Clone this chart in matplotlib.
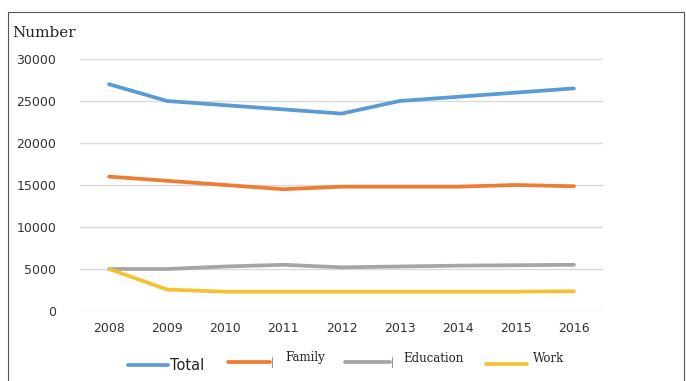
import numpy as np
import matplotlib.pyplot as plt
from matplotlib.lines import Line2D
from matplotlib.patches import Rectangle

years = ['2008', '2009', '2010', '2011', '2012', '2013', '2014', '2015', '2016']
total = [27000, 25000, 24500, 24000, 23500, 25000, 25500, 26000, 26500]
family = [16000, 15500, 15000, 14500, 14800, 14800, 14800, 15000, 14850]
education = [5000, 5000, 5300, 5500, 5200, 5300, 5400, 5450, 5500]
work = [5000, 2550, 2300, 2300, 2300, 2300, 2300, 2300, 2350]

names = ['Total', 'Family', 'Education', 'Work']
colors = ['#5B9BD5', '#ED7D31', '#A5A5A5', '#F2C232']

W, H = 686, 381
fig = plt.figure(figsize=(W / 100, H / 100), dpi=100)
ax = fig.add_axes([80 / W, 1 - 311 / H, 523 / W, 252 / H])

x = np.arange(len(years))
for vals, c in zip([total, family, education, work], colors):
    ax.plot(x, vals, color=c, lw=2.7, solid_capstyle='round', solid_joinstyle='round')

ax.set_xlim(-0.5, len(years) - 0.5)
ax.set_ylim(0, 30000)
ax.set_yticks(range(0, 30001, 5000))
ax.set_xticks(x)
ax.set_xticklabels(years)
ax.grid(axis='y', color='#D9D9D9', lw=1)
ax.set_axisbelow(True)
for s in ax.spines.values():
    s.set_visible(False)
ax.tick_params(length=0, labelsize=9, labelcolor='#333333')
ax.tick_params(axis='y', pad=17)
ax.tick_params(axis='x', pad=8)

fig.text(12 / W, 1 - 33 / H, 'Number', family='DejaVu Serif', fontsize=11,
         va='center', ha='left', color='#222222')

# outer frame
fig.add_artist(Rectangle((8 / W, -0.05), 676 / W, 1 - 12 / H + 0.05,
                         transform=fig.transFigure, fill=False,
                         edgecolor='#555555', lw=0.8))

# hand-placed legend row
def px(xp, yp):
    return xp / W, 1 - yp / H

legend_items = [
    (128, 168, 365, 170, 366, 'DejaVu Sans', 10.5, False),
    (228, 270, 362, 285, 358, 'DejaVu Serif', 8.5, True),
    (345, 390, 362, 403, 358, 'DejaVu Serif', 8.5, True),
    (486, 527, 364, 533, 359, 'DejaVu Serif', 8.5, False),
]
for (x0, x1, yl, xt, yt, fam, fs, tick), name, c in zip(legend_items, names, colors):
    a, b = px(x0, yl)
    a2, _ = px(x1, yl)
    fig.add_artist(Line2D([a, a2], [b, b], transform=fig.transFigure,
                          color=c, lw=2.7, solid_capstyle='round'))
    if tick:
        t0 = px(x1 + 2, yl - 5)
        t1 = px(x1 + 2, yl + 5)
        fig.add_artist(Line2D([t0[0], t1[0]], [t0[1], t1[1]],
                              transform=fig.transFigure, color='#999999', lw=0.8))
    tx, ty = px(xt, yt)
    fig.text(tx, ty, name, family=fam, fontsize=fs, va='center', ha='left',
             color='#222222')

fig.savefig('out.png', dpi=100)
